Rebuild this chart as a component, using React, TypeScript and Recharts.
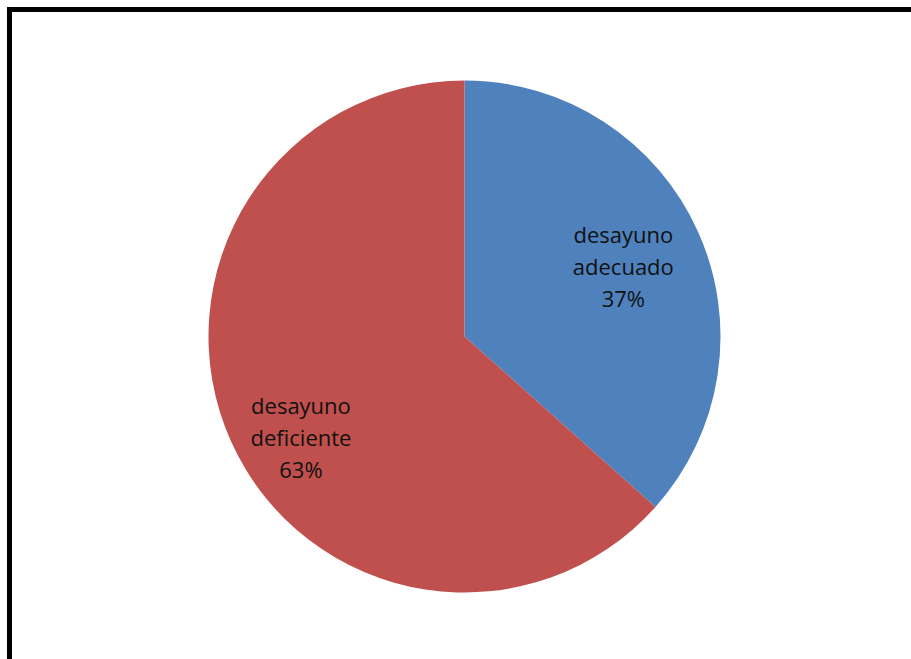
import React from 'react';
import { PieChart, Pie, Cell } from 'recharts';

const categories = ['desayuno adecuado', 'desayuno deficiente'];
const shares = [36.6, 63.4];
const sliceColors = ['#4F81BD', '#C0504D'];

// where each label sits: fraction of the radius and a small angle shift (deg)
const labelPlacement = [
    { r: 0.666, shift: -2.8 },
    { r: 0.768, shift: 9.6 },
];

const data = categories.map((name, i) => ({ name, value: shares[i] }));

const RAD = Math.PI / 180;

const renderLabel = (props: any) => {
    const { cx, cy, midAngle, outerRadius, index, percent, name } = props;
    const place = labelPlacement[index];
    const ang = (midAngle + place.shift) * RAD;
    const x = cx + outerRadius * place.r * Math.cos(-ang);
    const y = cy + outerRadius * place.r * Math.sin(-ang);
    const words = String(name).split(' ');
    const lines = [words[0], words.slice(1).join(' '), `${Math.round(percent * 100)}%`];
    return (
        <text x={x} y={y} textAnchor="middle" fill="#111"
            style={{ fontFamily: '"Open Sans", sans-serif', fontSize: 22 }}>
            {lines.map((l, i) => (
                <tspan key={i} x={x} y={y + (i - 1) * 32}>{l}</tspan>
            ))}
        </text>
    );
};

const App: React.FC = () => {
    return (
        <div style={{ position: 'fixed', left: 0, top: 0, width: 911, height: 659, overflow: 'hidden', background: '#fff' }}>
            <div style={{
                position: 'absolute', left: 7, top: 7, width: 1000, height: 800,
                border: '5px solid #000', boxSizing: 'border-box'
            }} />
            <div style={{ position: 'absolute', left: 0, top: 0 }}>
                <PieChart width={911} height={659} margin={{ top: 0, right: 0, bottom: 0, left: 0 }}>
                    <Pie data={data} dataKey="value" nameKey="name"
                        cx={464.5} cy={336.5} outerRadius={256}
                        startAngle={90} endAngle={-270}
                        stroke="none" labelLine={false} label={renderLabel}
                        isAnimationActive={false}>
                        {data.map((d, i) => <Cell key={d.name} fill={sliceColors[i]} />)}
                    </Pie>
                </PieChart>
            </div>
        </div>
    );
};

export default App;
